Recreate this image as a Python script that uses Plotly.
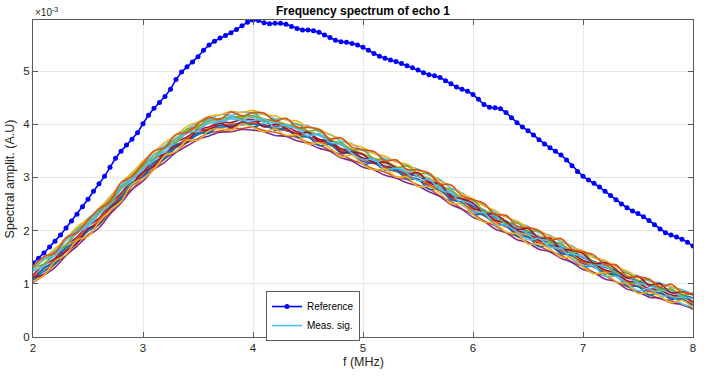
import plotly.graph_objects as go

# ---------------- data (amplitudes in units of 1e-3) ----------------
ref_f = [round(2.0 + 0.05 * i, 2) for i in range(121)]
ref_amp = [
    1.39, 1.48, 1.58, 1.69, 1.80, 1.92, 2.05, 2.18, 2.31, 2.45,
    2.59, 2.74, 2.88, 3.02, 3.19, 3.36, 3.49, 3.61, 3.72, 3.84,
    4.01, 4.17, 4.30, 4.41, 4.52, 4.66, 4.84, 4.98, 5.08, 5.17,
    5.27, 5.39, 5.49, 5.56, 5.62, 5.67, 5.72, 5.78, 5.85, 5.92,
    5.96, 5.95, 5.91, 5.89, 5.90, 5.90, 5.88, 5.84, 5.80, 5.77,
    5.77, 5.76, 5.73, 5.68, 5.63, 5.58, 5.55, 5.54, 5.52, 5.49,
    5.45, 5.39, 5.33, 5.28, 5.24, 5.21, 5.18, 5.14, 5.10, 5.06,
    5.02, 4.97, 4.93, 4.91, 4.88, 4.82, 4.76, 4.70, 4.66, 4.62,
    4.56, 4.47, 4.37, 4.32, 4.31, 4.29, 4.22, 4.12, 4.03, 3.95,
    3.88, 3.80, 3.71, 3.63, 3.56, 3.49, 3.42, 3.33, 3.22, 3.11,
    3.02, 2.95, 2.89, 2.82, 2.74, 2.66, 2.58, 2.50, 2.43, 2.37,
    2.32, 2.26, 2.19, 2.11, 2.03, 1.96, 1.92, 1.88, 1.84, 1.78,
    1.71,
]

meas_f = [round(2.0 + 0.1 * i, 1) for i in range(61)]
meas_a = [1.33, 1.49, 1.62, 1.86, 2.02, 2.23, 2.37, 2.64, 2.84, 3.09,
          3.24, 3.48, 3.60, 3.80, 3.90, 4.04, 4.09, 4.18, 4.17, 4.23,
          4.20, 4.19, 4.10, 4.10, 3.99, 3.97, 3.86, 3.81, 3.68, 3.63,
          3.50, 3.46, 3.35, 3.31, 3.21, 3.16, 3.04, 2.96, 2.80, 2.71,
          2.56, 2.48, 2.34, 2.27, 2.14, 2.08, 1.96, 1.91, 1.79, 1.71,
          1.58, 1.51, 1.40, 1.34, 1.20, 1.15, 1.05, 1.02, 0.93, 0.89, 0.80]
meas_b = [1.06, 1.18, 1.37, 1.55, 1.77, 1.92, 2.12, 2.33, 2.60, 2.78,
          2.99, 3.17, 3.35, 3.49, 3.65, 3.73, 3.84, 3.87, 3.92, 3.92,
          3.95, 3.88, 3.85, 3.79, 3.75, 3.66, 3.61, 3.51, 3.43, 3.33,
          3.25, 3.16, 3.10, 3.01, 2.96, 2.86, 2.79, 2.65, 2.55, 2.41,
          2.31, 2.18, 2.09, 1.97, 1.89, 1.78, 1.71, 1.61, 1.54, 1.41,
          1.33, 1.21, 1.15, 1.04, 0.95, 0.85, 0.80, 0.72, 0.68, 0.60, 0.55]
meas_c = [1.27, 1.38, 1.58, 1.74, 1.98, 2.12, 2.33, 2.52, 2.80, 2.98,
          3.19, 3.36, 3.56, 3.68, 3.85, 3.93, 4.04, 4.07, 4.12, 4.12,
          4.15, 4.08, 4.05, 3.99, 3.95, 3.86, 3.81, 3.71, 3.63, 3.53,
          3.45, 3.36, 3.30, 3.21, 3.16, 3.06, 2.99, 2.85, 2.75, 2.61,
          2.51, 2.38, 2.29, 2.17, 2.09, 1.98, 1.91, 1.81, 1.74, 1.61,
          1.53, 1.41, 1.35, 1.24, 1.15, 1.05, 1.00, 0.92, 0.88, 0.80, 0.74]
meas_d = [1.12, 1.29, 1.42, 1.66, 1.82, 2.03, 2.17, 2.44, 2.64, 2.89,
          3.04, 3.28, 3.40, 3.60, 3.70, 3.84, 3.89, 3.98, 3.97, 4.03,
          4.00, 3.99, 3.90, 3.90, 3.79, 3.77, 3.66, 3.62, 3.48, 3.44,
          3.30, 3.27, 3.15, 3.12, 3.01, 2.97, 2.84, 2.76, 2.60, 2.52,
          2.36, 2.29, 2.14, 2.08, 1.94, 1.89, 1.76, 1.72, 1.59, 1.52,
          1.38, 1.32, 1.20, 1.15, 1.00, 0.96, 0.85, 0.83, 0.73, 0.70, 0.60]
meas_e = [1.29, 1.45, 1.59, 1.82, 1.99, 2.18, 2.34, 2.59, 2.81, 3.04,
          3.21, 3.42, 3.57, 3.74, 3.87, 3.97, 4.06, 4.11, 4.14, 4.15,
          4.16, 4.10, 4.06, 4.00, 3.95, 3.86, 3.80, 3.71, 3.62, 3.52,
          3.43, 3.34, 3.26, 3.18, 3.10, 3.03, 2.93, 2.82, 2.68, 2.58,
          2.44, 2.34, 2.21, 2.13, 2.00, 1.93, 1.82, 1.76, 1.64, 1.56,
          1.43, 1.36, 1.25, 1.19, 1.05, 1.00, 0.90, 0.87, 0.78, 0.75, 0.65]
meas_f2 = [1.08, 1.24, 1.38, 1.62, 1.78, 1.99, 2.13, 2.40, 2.60, 2.85,
           3.00, 3.24, 3.36, 3.56, 3.67, 3.80, 3.87, 3.94, 3.96, 3.99,
           4.01, 3.96, 3.92, 3.88, 3.83, 3.77, 3.70, 3.64, 3.53, 3.47,
           3.36, 3.29, 3.20, 3.15, 3.07, 3.02, 2.92, 2.84, 2.69, 2.60,
           2.46, 2.39, 2.25, 2.18, 2.05, 1.99, 1.87, 1.82, 1.70, 1.62,
           1.49, 1.42, 1.31, 1.25, 1.11, 1.06, 0.96, 0.93, 0.84, 0.80, 0.73]
meas_g = [1.17, 1.35, 1.48, 1.72, 1.88, 2.09, 2.23, 2.50, 2.70, 2.95,
          3.10, 3.34, 3.46, 3.66, 3.76, 3.90, 3.95, 4.04, 4.03, 4.09,
          4.06, 4.05, 3.96, 3.96, 3.86, 3.83, 3.72, 3.68, 3.54, 3.50,
          3.36, 3.33, 3.21, 3.18, 3.07, 3.03, 2.90, 2.82, 2.66, 2.58,
          2.42, 2.35, 2.20, 2.14, 2.00, 1.95, 1.82, 1.78, 1.65, 1.58,
          1.44, 1.38, 1.26, 1.21, 1.06, 1.02, 0.91, 0.89, 0.79, 0.77, 0.66]
meas_h = [1.24, 1.34, 1.55, 1.71, 1.95, 2.08, 2.30, 2.49, 2.77, 2.94,
          3.17, 3.33, 3.53, 3.65, 3.83, 3.89, 4.02, 4.03, 4.10, 4.08,
          4.13, 4.04, 4.03, 3.95, 3.93, 3.82, 3.79, 3.67, 3.61, 3.49,
          3.43, 3.32, 3.28, 3.17, 3.14, 3.02, 2.97, 2.81, 2.73, 2.57,
          2.49, 2.34, 2.27, 2.13, 2.07, 1.94, 1.89, 1.77, 1.72, 1.57,
          1.51, 1.37, 1.33, 1.20, 1.13, 1.01, 0.98, 0.88, 0.86, 0.76, 0.72]
meas_i = [1.14, 1.28, 1.45, 1.65, 1.85, 2.02, 2.20, 2.43, 2.67, 2.88,
          3.07, 3.27, 3.43, 3.59, 3.73, 3.83, 3.92, 3.97, 4.00, 4.02,
          4.03, 3.98, 3.93, 3.89, 3.83, 3.76, 3.69, 3.61, 3.51, 3.43,
          3.33, 3.26, 3.18, 3.11, 3.04, 2.96, 2.87, 2.76, 2.63, 2.51,
          2.39, 2.28, 2.17, 2.07, 1.97, 1.88, 1.79, 1.71, 1.62, 1.51,
          1.41, 1.31, 1.23, 1.14, 1.03, 0.95, 0.88, 0.82, 0.76, 0.70, 0.63]
meas_j = [1.31, 1.47, 1.66, 1.84, 2.07, 2.21, 2.42, 2.62, 2.90, 3.08,
          3.31, 3.47, 3.66, 3.79, 3.96, 4.04, 4.15, 4.18, 4.24, 4.22,
          4.26, 4.18, 4.16, 4.08, 4.06, 3.95, 3.91, 3.80, 3.73, 3.62,
          3.56, 3.45, 3.40, 3.29, 3.25, 3.13, 3.08, 2.93, 2.85, 2.69,
          2.60, 2.46, 2.38, 2.25, 2.18, 2.06, 2.00, 1.89, 1.83, 1.69,
          1.62, 1.49, 1.44, 1.32, 1.24, 1.12, 1.08, 0.98, 0.95, 0.86, 0.80]
meas_k = [1.03, 1.16, 1.31, 1.53, 1.71, 1.90, 2.05, 2.31, 2.52, 2.77,
          2.93, 3.15, 3.29, 3.47, 3.59, 3.71, 3.78, 3.85, 3.86, 3.90,
          3.89, 3.86, 3.79, 3.77, 3.69, 3.64, 3.55, 3.49, 3.37, 3.31,
          3.19, 3.14, 3.04, 2.99, 2.90, 2.84, 2.73, 2.64, 2.49, 2.40,
          2.25, 2.17, 2.03, 1.96, 1.83, 1.77, 1.65, 1.60, 1.48, 1.40,
          1.27, 1.21, 1.09, 1.04, 0.90, 0.85, 0.75, 0.73, 0.64, 0.61, 0.52]
meas_l = [1.33, 1.37, 1.60, 1.72, 2.03, 2.13, 2.40, 2.51, 2.81, 2.97,
          3.26, 3.36, 3.58, 3.66, 3.91, 3.94, 4.12, 4.05, 4.14, 4.11,
          4.22, 4.07, 4.08, 3.96, 4.01, 3.87, 3.89, 3.69, 3.65, 3.52,
          3.52, 3.35, 3.33, 3.18, 3.22, 3.07, 3.07, 2.84, 2.77, 2.60,
          2.58, 2.37, 2.32, 2.14, 2.15, 1.99, 1.99, 1.79, 1.76, 1.60,
          1.60, 1.40, 1.38, 1.21, 1.21, 1.06, 1.08, 0.90, 0.90, 0.79, 0.82]
meas_m = [1.06, 1.30, 1.41, 1.68, 1.78, 2.02, 2.11, 2.44, 2.62, 2.90,
          2.99, 3.29, 3.39, 3.62, 3.66, 3.83, 3.83, 3.98, 3.95, 4.04,
          3.95, 4.00, 3.89, 3.92, 3.76, 3.76, 3.60, 3.62, 3.46, 3.45,
          3.25, 3.28, 3.14, 3.14, 2.97, 2.96, 2.78, 2.77, 2.58, 2.53,
          2.31, 2.30, 2.13, 2.10, 1.90, 1.88, 1.70, 1.72, 1.57, 1.53,
          1.33, 1.33, 1.19, 1.17, 0.96, 0.95, 0.79, 0.83, 0.71, 0.72, 0.55]
meas_n = [1.13, 1.18, 1.45, 1.61, 1.76, 2.04, 2.13, 2.44, 2.57, 2.86,
          3.10, 3.21, 3.47, 3.59, 3.68, 3.89, 3.89, 4.02, 3.94, 4.04,
          4.09, 3.95, 4.00, 3.92, 3.81, 3.85, 3.69, 3.69, 3.48, 3.48,
          3.43, 3.27, 3.29, 3.18, 3.06, 3.09, 2.91, 2.88, 2.64, 2.60,
          2.52, 2.32, 2.31, 2.17, 2.02, 2.04, 1.86, 1.86, 1.66, 1.63,
          1.57, 1.38, 1.40, 1.27, 1.11, 1.14, 0.98, 1.00, 0.83, 0.85, 0.79]
meas_o = [1.25, 1.47, 1.53, 1.82, 2.00, 2.11, 2.40, 2.55, 2.85, 2.97,
          3.14, 3.42, 3.47, 3.72, 3.84, 3.88, 4.08, 4.05, 4.14, 4.07,
          4.07, 4.10, 3.94, 3.99, 3.91, 3.78, 3.82, 3.66, 3.62, 3.45,
          3.33, 3.34, 3.15, 3.17, 3.08, 2.94, 2.96, 2.77, 2.70, 2.49,
          2.36, 2.33, 2.11, 2.10, 1.98, 1.83, 1.85, 1.69, 1.66, 1.46,
          1.35, 1.33, 1.14, 1.14, 1.01, 0.87, 0.91, 0.77, 0.77, 0.62, 0.57]
meas_p = [1.33, 1.51, 1.58, 1.87, 1.96, 2.20, 2.41, 2.55, 2.90, 3.02,
          3.26, 3.50, 3.56, 3.81, 3.84, 4.01, 4.13, 4.09, 4.23, 4.16,
          4.22, 4.21, 4.06, 4.11, 3.94, 3.94, 3.90, 3.73, 3.74, 3.57,
          3.52, 3.49, 3.31, 3.33, 3.15, 3.14, 3.08, 2.88, 2.86, 2.65,
          2.58, 2.51, 2.30, 2.29, 2.08, 2.06, 2.00, 1.83, 1.85, 1.65,
          1.60, 1.54, 1.36, 1.36, 1.14, 1.13, 1.09, 0.94, 0.99, 0.84, 0.82]
meas_q = [1.05, 1.16, 1.43, 1.55, 1.82, 1.89, 2.16, 2.38, 2.55, 2.87,
          2.98, 3.15, 3.41, 3.49, 3.70, 3.70, 3.88, 3.92, 3.88, 4.01,
          3.94, 3.86, 3.91, 3.79, 3.80, 3.63, 3.65, 3.56, 3.39, 3.42,
          3.24, 3.14, 3.16, 3.01, 3.01, 2.83, 2.83, 2.71, 2.51, 2.50,
          2.30, 2.16, 2.15, 1.97, 1.94, 1.75, 1.75, 1.66, 1.50, 1.50,
          1.32, 1.19, 1.21, 1.04, 1.00, 0.82, 0.84, 0.77, 0.64, 0.69, 0.54]

meas_series = [meas_a, meas_b, meas_c, meas_d, meas_e, meas_f2, meas_g,
               meas_h, meas_i, meas_j, meas_k, meas_l, meas_m, meas_n,
               meas_o, meas_p, meas_q]
color_order = ["#4DBEEE", "#D95319", "#EDB120", "#7E2F8E", "#77AC30",
               "#0072BD", "#A2142F"]

x_ticks = [2, 3, 4, 5, 6, 7, 8]
y_ticks = [0, 1, 2, 3, 4, 5]

# ---------------- figure ----------------
fig = go.Figure()

fig.add_trace(go.Scatter(
    x=ref_f, y=ref_amp, mode="lines+markers", name="Reference",
    line=dict(color="#0000FF", width=1.6),
    marker=dict(color="#0000FF", size=5),
))

for i, ys in enumerate(meas_series):
    fig.add_trace(go.Scatter(
        x=meas_f, y=ys, mode="lines", name="Meas. sig.",
        line=dict(color=color_order[i % len(color_order)], width=1.6,
                  shape="spline", smoothing=1.0),
        showlegend=(i == 0),
    ))

axis_common = dict(
    showline=True, linecolor="#5a5a5a", linewidth=1, mirror="ticks",
    ticks="inside", ticklen=5, tickcolor="#5a5a5a",
    showgrid=True, gridcolor="#e8e8e8", gridwidth=1, zeroline=False,
    automargin=False,
    tickfont=dict(family="Liberation Sans, Arial", size=11.5, color="#262626"),
)

fig.update_xaxes(range=[2, 8], tickvals=x_ticks, **axis_common)
fig.update_yaxes(range=[0, 5.96], tickvals=y_ticks, **axis_common)

fig.update_layout(
    width=704, height=376,
    margin=dict(l=33, r=11, t=20, b=39),
    paper_bgcolor="white", plot_bgcolor="white",
    font=dict(family="Liberation Sans, Arial", color="#262626"),
    title=dict(text="<b>Frequency spectrum of echo 1</b>", x=0.5, xref="paper",
               y=0.972, yanchor="middle",
               font=dict(size=12, color="#000000")),
    legend=dict(x=0.353, y=0.145, xanchor="left", yanchor="top",
                bgcolor="white", bordercolor="#5a5a5a", borderwidth=1,
                font=dict(size=10, color="#000000"),
                tracegroupgap=0, itemwidth=30),
    showlegend=True,
    annotations=[
        dict(text="f (MHz)", xref="paper", yref="paper", x=0.5, y=-0.0775,
             xanchor="center", yanchor="middle", showarrow=False,
             font=dict(size=12.5, color="#262626")),
        dict(text="Spectral amplit. (A.U)", xref="paper", yref="paper",
             x=-0.035, y=0.5, xanchor="center", yanchor="middle",
             textangle=-90, showarrow=False,
             font=dict(size=12.5, color="#262626")),
        dict(text="\u00d710<sup>-3</sup>", xref="paper", yref="paper",
             x=0.0, y=1.0, xanchor="left", yanchor="bottom", showarrow=False,
             font=dict(size=10, color="#262626")),
    ],
)

fig.write_html("out.html",
               config={"displayModeBar": False},
               post_script="document.body.style.margin='0';"
                           "document.body.style.overflow='hidden';")
